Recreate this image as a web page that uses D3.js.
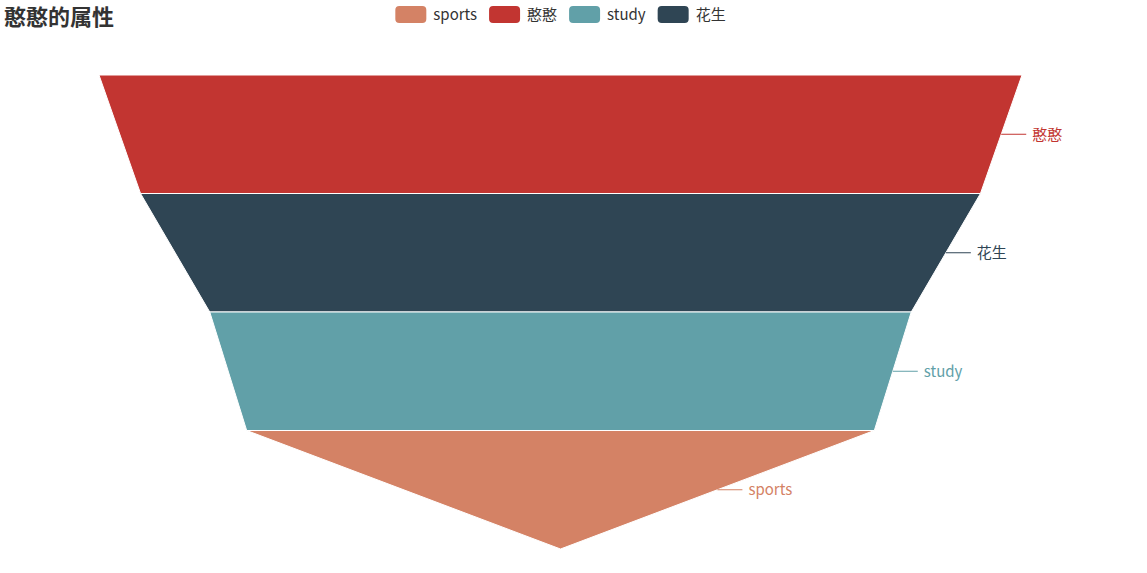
<!DOCTYPE html>
<html>
<head>
<meta charset="utf-8">
<script src="https://cdn.jsdelivr.net/npm/d3@7"></script>
<style>
  body { margin: 0; background: #fff; }
  svg { display: block; font-family: "Microsoft YaHei", "Noto Sans CJK SC", sans-serif; }
</style>
</head>
<body>
<svg id="chart" width="1147" height="573"></svg>
<script>
// legend order as in the original options
var legendNames = ["sports", "憨憨", "study", "花生"];
var legendColors = ["#d48265", "#c23531", "#61a0a8", "#2f4554"];

// funnel data
var names = ["sports", "憨憨", "study", "花生"];
var values = [68, 100, 76, 91];

var svg = d3.select("#chart");

var funnelLeft = 99, funnelRight = 1022, funnelTop = 75, funnelBottom = 549;
var cx = (funnelLeft + funnelRight) / 2;

var color = d3.scaleOrdinal().domain(legendNames).range(legendColors);

// sort descending like echarts funnel
var items = names.map(function(n, i){ return {name: n, value: values[i]}; })
    .sort(function(a, b){ return b.value - a.value; });

var wScale = d3.scaleLinear().domain([0, 100]).range([0, funnelRight - funnelLeft]);
var yScale = d3.scaleBand()
    .domain(items.map(function(d){ return d.name; }))
    .range([funnelTop, funnelBottom])
    .padding(0);

var g = svg.append("g");

items.forEach(function(d, i){
    var next = items[i+1];
    d.wTop = wScale(d.value);
    d.wBot = next ? wScale(next.value) : wScale(0);
    d.y0 = yScale(d.name);
    d.y1 = d.y0 + yScale.bandwidth();
});

g.selectAll(".piece")
    .data(items)
  .enter().append("path")
    .attr("class", "piece")
    .attr("d", function(d){
        return "M" + (cx - d.wTop/2) + "," + d.y0 +
               "L" + (cx + d.wTop/2) + "," + d.y0 +
               "L" + (cx + d.wBot/2) + "," + d.y1 +
               "L" + (cx - d.wBot/2) + "," + d.y1 + "Z";
    })
    .style("fill", function(d){ return color(d.name); })
    .style("stroke", "#fff")
    .style("stroke-width", 1);

// labels on the right with a short line
var labels = g.selectAll(".lbl")
    .data(items)
  .enter().append("g")
    .attr("class", "lbl")
    .attr("transform", function(d){
        var ym = (d.y0 + d.y1) / 2;
        var xm = cx + (d.wTop + d.wBot) / 4;
        return "translate(" + xm + "," + ym + ")";
    });

labels.append("line")
    .attr("x1", 0).attr("y1", 0)
    .attr("x2", 25).attr("y2", 0)
    .style("stroke", function(d){ return color(d.name); })
    .style("stroke-width", 1);

labels.append("text")
    .attr("x", 31)
    .attr("y", 0)
    .attr("dy", "0.35em")
    .style("font-size", "15px")
    .style("fill", function(d){ return color(d.name); })
    .text(function(d){ return d.name; });

// title
svg.append("text")
    .attr("x", 4)
    .attr("y", 25)
    .style("font-size", "22px")
    .style("font-weight", "bold")
    .style("fill", "#333")
    .text("憨憨的属性");

// legend, centred over the funnel
var legend = svg.append("g");
var lx = 0;
var iconW = 31, iconH = 17, gapIcon = 7, gapItem = 12;
legendNames.forEach(function(n, i){
    var it = legend.append("g").attr("transform", "translate(" + lx + ",0)");
    it.append("rect")
        .attr("x", 0).attr("y", 6)
        .attr("width", iconW).attr("height", iconH)
        .attr("rx", 4).attr("ry", 4)
        .style("fill", color(n));
    var t = it.append("text")
        .attr("x", iconW + gapIcon)
        .attr("y", 14.5)
        .attr("dy", "0.35em")
        .style("font-size", "15px")
        .style("fill", "#333")
        .text(n);
    lx += iconW + gapIcon + t.node().getComputedTextLength() + gapItem;
});
lx -= gapItem;
legend.attr("transform", "translate(" + (cx - lx/2) + ",0)");
</script>
</body>
</html>
